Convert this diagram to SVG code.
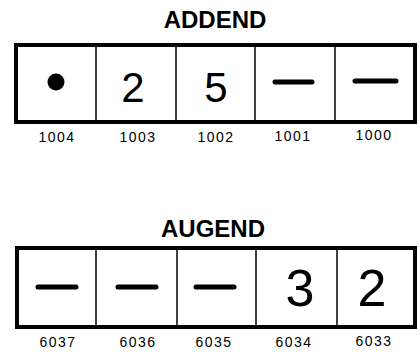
<svg xmlns="http://www.w3.org/2000/svg" width="419" height="352" viewBox="0 0 419 352">
<style>
.t{font-family:"Liberation Sans",Arial,sans-serif;font-weight:bold;font-size:24px;text-anchor:middle;fill:#000}
.d{font-family:"Liberation Sans",Arial,sans-serif;font-size:42px;text-anchor:middle;fill:#000}
.d2{font-family:"Liberation Sans",Arial,sans-serif;font-size:52px;text-anchor:middle;fill:#000}
.l{font-family:"Liberation Sans",Arial,sans-serif;font-size:14px;letter-spacing:1.5px;text-anchor:middle;fill:#000}
.box{fill:#fff;stroke:#000;stroke-width:4}
.div{stroke:#000;stroke-width:1.5}
.dash{stroke:#000;stroke-width:5;stroke-linecap:round}
</style>
<rect width="419" height="352" fill="#fff"/>
<g id="addend">
<text class="t" x="215" y="28">ADDEND</text>
<rect class="box" x="16" y="45" width="399" height="77"/>
<line class="div" x1="96" y1="45" x2="96" y2="122"/>
<line class="div" x1="176" y1="45" x2="176" y2="122"/>
<line class="div" x1="255" y1="45" x2="255" y2="122"/>
<line class="div" x1="335" y1="45" x2="335" y2="122"/>
<circle cx="56" cy="82" r="8.5" fill="#000"/>
<text class="d" x="133" y="102">2</text>
<text class="d" x="216" y="102">5</text>
<line class="dash" x1="275" y1="82" x2="312" y2="82"/>
<line class="dash" x1="355" y1="81" x2="396" y2="81"/>
<text class="l" x="57" y="142">1004</text>
<text class="l" x="138" y="142">1003</text>
<text class="l" x="216" y="142">1002</text>
<text class="l" x="293" y="141">1001</text>
<text class="l" x="374" y="140">1000</text>
</g>
<g id="augend">
<text class="t" x="213" y="237">AUGEND</text>
<rect class="box" x="17" y="248" width="398" height="79"/>
<line class="div" x1="96" y1="248" x2="96" y2="327"/>
<line class="div" x1="177" y1="248" x2="177" y2="327"/>
<line class="div" x1="256" y1="248" x2="256" y2="327"/>
<line class="div" x1="337" y1="248" x2="337" y2="327"/>
<line class="dash" x1="38" y1="287" x2="76" y2="287"/>
<line class="dash" x1="118" y1="287" x2="156" y2="287"/>
<line class="dash" x1="196" y1="287" x2="234" y2="287"/>
<text class="d2" x="300" y="306">3</text>
<text class="d2" x="372" y="306">2</text>
<text class="l" x="58" y="347">6037</text>
<text class="l" x="138" y="347">6036</text>
<text class="l" x="214" y="347">6035</text>
<text class="l" x="294" y="347">6034</text>
<text class="l" x="374" y="346">6033</text>
</g>
</svg>
